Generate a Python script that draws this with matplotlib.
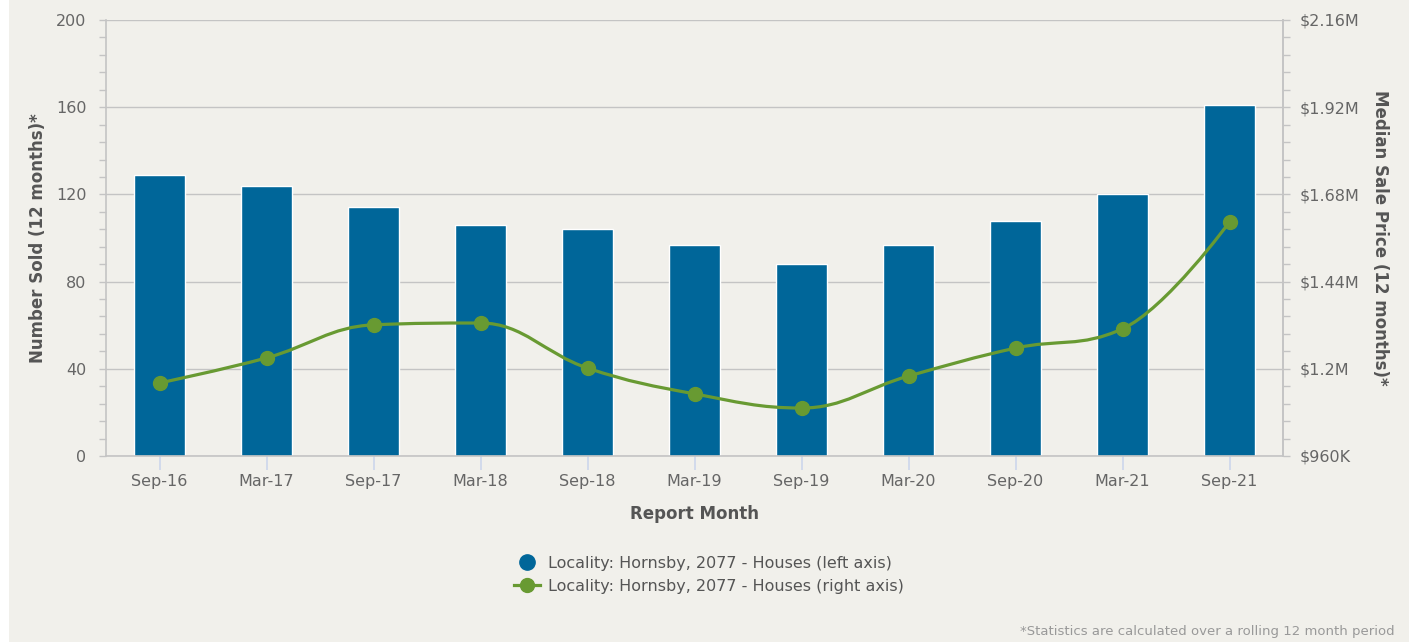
import numpy as np
import matplotlib
matplotlib.use("Agg")
import matplotlib.pyplot as plt
from matplotlib.path import Path
from matplotlib.patches import PathPatch, Rectangle
from matplotlib.lines import Line2D
from matplotlib.ticker import MultipleLocator, AutoMinorLocator, FuncFormatter

months = ["Sep-16", "Mar-17", "Sep-17", "Mar-18", "Sep-18", "Mar-19",
          "Sep-19", "Mar-20", "Sep-20", "Mar-21", "Sep-21"]
number_sold = [129, 124, 114, 106, 104, 97, 88, 97, 108, 120, 161]
median_price = [1161000, 1230000, 1321000, 1326000, 1202000, 1131000,
                1092000, 1180000, 1257000, 1310000, 1604000]

BAR = "#006699"
GREEN = "#689a32"
BG = "#f1f0eb"
W, H = 1409, 642

plt.rcParams["font.family"] = "DejaVu Sans"

fig = plt.figure(figsize=(W / 100, H / 100), dpi=100)
fig.patch.set_facecolor(BG)
fig.patches.append(Rectangle((0, 0), 9 / W, 1, transform=fig.transFigure,
                             facecolor="white", edgecolor="none", zorder=-1))

ax = fig.add_axes([106 / W, 1 - 456 / H, 1177 / W, 436 / H])
ax.set_facecolor("none")
x = np.arange(len(months))
ax.bar(x, number_sold, width=0.48, color=BAR, edgecolor="white", linewidth=1, zorder=2)
ax.set_xlim(-0.5, len(months) - 0.5)
ax.set_ylim(0, 200)
ax.yaxis.set_major_locator(MultipleLocator(40))
ax.yaxis.set_minor_locator(AutoMinorLocator(5))
ax.set_axisbelow(True)
ax.grid(axis="y", which="major", color="#c4c4c4", linewidth=1)
ax.set_xticks(x)
ax.set_xticklabels(months)
ax.spines["top"].set_visible(False)
for s in ["left", "right", "bottom"]:
    ax.spines[s].set_color("#c4c4c4")
    ax.spines[s].set_linewidth(1.2)
ax.tick_params(axis="x", length=10, width=1.2, color="#ccd6eb", labelsize=11.5,
               labelcolor="#666666", pad=3)
ax.tick_params(axis="y", which="both", length=5, width=1, color="#c4c4c4",
               labelsize=11.5, labelcolor="#666666", pad=9)

ax2 = ax.twinx()
ax2.set_ylim(960000, 2160000)
ax2.yaxis.set_major_locator(MultipleLocator(240000))
ax2.yaxis.set_minor_locator(AutoMinorLocator(5))


def money(v, pos):
    if v >= 1e6:
        return "$%gM" % round(v / 1e6, 2)
    return "$%gK" % round(v / 1e3)


ax2.yaxis.set_major_formatter(FuncFormatter(money))
for s in ["top", "left", "bottom"]:
    ax2.spines[s].set_visible(False)
ax2.spines["right"].set_color("#c4c4c4")
ax2.spines["right"].set_linewidth(1.2)
ax2.tick_params(axis="y", which="both", length=5, width=1, color="#c4c4c4",
                labelsize=11.5, labelcolor="#666666", pad=7)

# smooth spline like the original chart (cubic bezier through the points)
px = list(x.astype(float))
py = list(median_price)
sm = 1.5
dn = sm + 1
lc = [None] * len(px)
rc = [None] * len(px)
for i in range(len(px)):
    if 0 < i < len(px) - 1:
        lx = (sm * px[i] + px[i - 1]) / dn
        ly = (sm * py[i] + py[i - 1]) / dn
        rx = (sm * px[i] + px[i + 1]) / dn
        ry = (sm * py[i] + py[i + 1]) / dn
        corr = (ry - ly) * (rx - px[i]) / (rx - lx) + py[i] - ry
        ly += corr
        ry += corr
        if ly > py[i - 1] and ly > py[i]:
            ly = max(py[i - 1], py[i]); ry = 2 * py[i] - ly
        elif ly < py[i - 1] and ly < py[i]:
            ly = min(py[i - 1], py[i]); ry = 2 * py[i] - ly
        if ry > py[i + 1] and ry > py[i]:
            ry = max(py[i + 1], py[i]); ly = 2 * py[i] - ry
        elif ry < py[i + 1] and ry < py[i]:
            ry = min(py[i + 1], py[i]); ly = 2 * py[i] - ry
        lc[i] = (lx, ly)
        rc[i] = (rx, ry)
    else:
        lc[i] = (px[i], py[i])
        rc[i] = (px[i], py[i])
verts = [(px[0], py[0])]
codes = [Path.MOVETO]
for i in range(1, len(px)):
    verts += [rc[i - 1], lc[i], (px[i], py[i])]
    codes += [Path.CURVE4] * 3
ax2.add_patch(PathPatch(Path(verts, codes), facecolor="none", edgecolor=GREEN,
                        linewidth=2.3, zorder=3))
ax2.plot(px, py, "o", color=GREEN, markersize=10, zorder=4)

fig.text(38 / W, 1 - 238 / H, "Number Sold (12 months)*", rotation=90,
         ha="center", va="center", fontsize=12, fontweight="bold", color="#555555")
fig.text(1380 / W, 1 - 238 / H, "Median Sale Price (12 months)*", rotation=270,
         ha="center", va="center", fontsize=12, fontweight="bold", color="#555555")
fig.text(694 / W, 1 - 514 / H, "Report Month", ha="center", va="center",
         fontsize=12, fontweight="bold", color="#555555")

handles = [Line2D([], [], marker="o", linestyle="none", color=BAR, markersize=11),
           Line2D([], [], marker="o", color=GREEN, linewidth=2.3, markersize=10)]
labels = ["Locality: Hornsby, 2077 - Houses (left axis)",
          "Locality: Hornsby, 2077 - Houses (right axis)"]
fig.legend(handles, labels, loc="center", bbox_to_anchor=(709 / W, 1 - 575 / H),
           frameon=False, fontsize=11.5, labelcolor="#555555", handlelength=1.6,
           handletextpad=0.5, labelspacing=0.5)

fig.text(1395 / W, 1 - 632 / H,
         "*Statistics are calculated over a rolling 12 month period",
         ha="right", va="center", fontsize=9.5, color="#999999")

fig.savefig("out.png", dpi=100, facecolor=fig.get_facecolor())
